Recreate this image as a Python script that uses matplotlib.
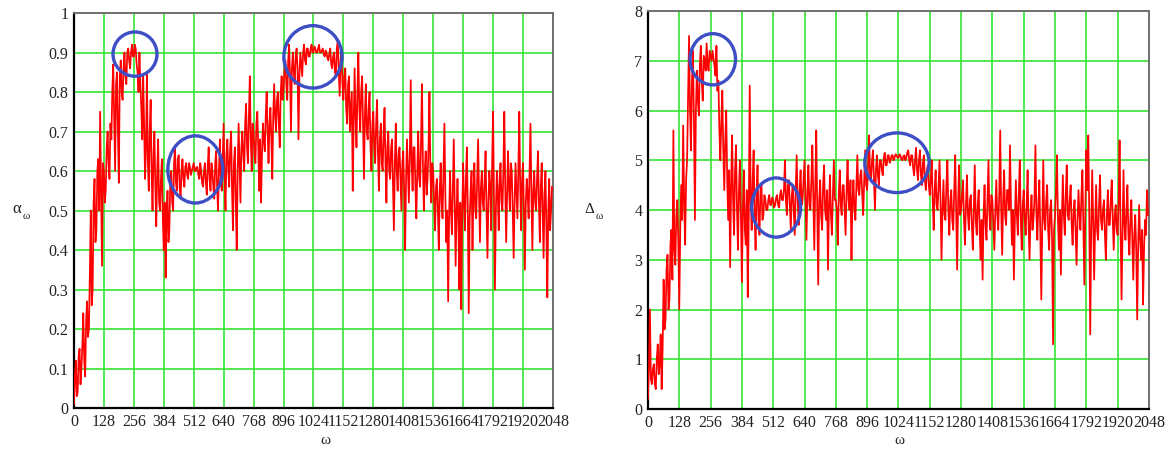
import numpy as np
import matplotlib
matplotlib.use("Agg")
import matplotlib.pyplot as plt
from matplotlib.patches import Ellipse

plt.rcParams["font.family"] = ["Liberation Serif", "DejaVu Serif"]

# alpha_omega sampled every 4th omega, one row per 128 of omega
alpha = [
    0.01, 0.08, 0.12, 0.03, 0.04, 0.13, 0.15, 0.06, 0.10, 0.16, 0.24, 0.12, 0.08, 0.22, 0.27, 0.18,
    0.20, 0.34, 0.50, 0.26, 0.30, 0.52, 0.58, 0.42, 0.45, 0.60, 0.63, 0.50, 0.75, 0.55, 0.36, 0.62,
    0.60, 0.52, 0.55, 0.66, 0.70, 0.62, 0.58, 0.72, 0.68, 0.80, 0.87, 0.74, 0.60, 0.82, 0.85, 0.70,
    0.57, 0.84, 0.88, 0.80, 0.78, 0.86, 0.90, 0.84, 0.82, 0.90, 0.91, 0.88, 0.86, 0.90, 0.92, 0.89,
    0.89, 0.92, 0.91, 0.87, 0.85, 0.80, 0.90, 0.82, 0.76, 0.68, 0.84, 0.72, 0.58, 0.66, 0.85, 0.62,
    0.55, 0.70, 0.78, 0.60, 0.50, 0.64, 0.70, 0.56, 0.46, 0.60, 0.68, 0.52, 0.50, 0.58, 0.63, 0.48,
    0.40, 0.52, 0.33, 0.48, 0.55, 0.42, 0.45, 0.58, 0.60, 0.52, 0.50, 0.62, 0.66, 0.57, 0.55, 0.63,
    0.64, 0.56, 0.53, 0.60, 0.63, 0.58, 0.56, 0.61, 0.62, 0.59, 0.58, 0.62, 0.61, 0.59, 0.60, 0.61,
    0.62, 0.60, 0.60, 0.61, 0.61, 0.59, 0.58, 0.62, 0.60, 0.57, 0.56, 0.60, 0.62, 0.57, 0.54, 0.61,
    0.66, 0.58, 0.55, 0.62, 0.60, 0.56, 0.53, 0.62, 0.65, 0.56, 0.50, 0.60, 0.68, 0.58, 0.55, 0.64,
    0.72, 0.58, 0.50, 0.64, 0.68, 0.60, 0.56, 0.66, 0.70, 0.55, 0.45, 0.62, 0.66, 0.52, 0.40, 0.60,
    0.72, 0.62, 0.52, 0.66, 0.70, 0.64, 0.60, 0.72, 0.77, 0.66, 0.62, 0.74, 0.84, 0.68, 0.60, 0.72,
    0.70, 0.64, 0.62, 0.72, 0.75, 0.66, 0.55, 0.68, 0.52, 0.64, 0.72, 0.68, 0.65, 0.74, 0.80, 0.70,
    0.62, 0.72, 0.76, 0.68, 0.58, 0.74, 0.82, 0.74, 0.70, 0.78, 0.80, 0.72, 0.66, 0.80, 0.84, 0.78,
    0.80, 0.86, 0.88, 0.82, 0.78, 0.88, 0.92, 0.84, 0.70, 0.86, 0.90, 0.85, 0.82, 0.89, 0.91, 0.86,
    0.68, 0.84, 0.90, 0.87, 0.84, 0.90, 0.92, 0.88, 0.87, 0.91, 0.91, 0.89, 0.89, 0.91, 0.92, 0.90,
    0.90, 0.915, 0.91, 0.90, 0.90, 0.91, 0.92, 0.90, 0.90, 0.905, 0.91, 0.895, 0.89, 0.905, 0.90, 0.885,
    0.88, 0.90, 0.91, 0.87, 0.86, 0.89, 0.90, 0.85, 0.84, 0.91, 0.93, 0.86, 0.79, 0.88, 0.90, 0.82,
    0.78, 0.84, 0.86, 0.76, 0.72, 0.82, 0.84, 0.70, 0.75, 0.80, 0.55, 0.72, 0.86, 0.74, 0.66, 0.80,
    0.90, 0.76, 0.70, 0.80, 0.84, 0.72, 0.58, 0.74, 0.82, 0.70, 0.68, 0.76, 0.80, 0.66, 0.60, 0.72,
    0.75, 0.66, 0.62, 0.72, 0.78, 0.64, 0.55, 0.68, 0.72, 0.62, 0.60, 0.70, 0.76, 0.62, 0.52, 0.66,
    0.70, 0.60, 0.58, 0.66, 0.68, 0.56, 0.45, 0.62, 0.72, 0.60, 0.55, 0.64, 0.66, 0.58, 0.50, 0.62,
    0.65, 0.55, 0.40, 0.58, 0.68, 0.60, 0.52, 0.64, 0.83, 0.62, 0.55, 0.66, 0.66, 0.56, 0.48, 0.60,
    0.70, 0.58, 0.56, 0.68, 0.82, 0.62, 0.50, 0.60, 0.65, 0.54, 0.58, 0.66, 0.80, 0.60, 0.52, 0.62,
    0.60, 0.52, 0.45, 0.56, 0.58, 0.50, 0.40, 0.55, 0.62, 0.52, 0.48, 0.60, 0.72, 0.54, 0.42, 0.50,
    0.27, 0.48, 0.60, 0.50, 0.44, 0.56, 0.68, 0.52, 0.36, 0.50, 0.58, 0.46, 0.30, 0.52, 0.25, 0.48,
    0.62, 0.52, 0.45, 0.58, 0.66, 0.50, 0.24, 0.48, 0.55, 0.60, 0.40, 0.54, 0.62, 0.50, 0.48, 0.58,
    0.68, 0.54, 0.42, 0.56, 0.60, 0.52, 0.50, 0.58, 0.65, 0.50, 0.38, 0.52, 0.60, 0.56, 0.45, 0.62,
    0.75, 0.52, 0.30, 0.50, 0.60, 0.54, 0.45, 0.58, 0.62, 0.52, 0.50, 0.60, 0.75, 0.56, 0.42, 0.54,
    0.65, 0.56, 0.50, 0.62, 0.60, 0.50, 0.38, 0.52, 0.62, 0.55, 0.48, 0.60, 0.75, 0.56, 0.45, 0.58,
    0.62, 0.50, 0.35, 0.52, 0.58, 0.54, 0.48, 0.60, 0.72, 0.54, 0.40, 0.55, 0.60, 0.52, 0.50, 0.58,
    0.65, 0.52, 0.42, 0.56, 0.62, 0.50, 0.38, 0.54, 0.60, 0.45, 0.28, 0.50, 0.58, 0.45, 0.50, 0.56,
]

# Delta_omega sampled every 4th omega, one row per 128 of omega
delta = [
    0.2, 0.8, 2.0, 0.6, 0.5, 0.8, 0.9, 0.5, 0.4, 1.0, 1.3, 0.7, 0.9, 1.5, 0.4, 1.2,
    2.6, 1.6, 1.8, 2.8, 3.1, 2.0, 2.2, 3.3, 3.6, 2.6, 5.6, 3.2, 2.9, 3.9, 4.2, 3.4,
    2.0, 3.6, 4.5, 3.8, 5.7, 4.2, 3.3, 4.6, 5.0, 6.2, 7.5, 6.0, 5.2, 6.6, 7.2, 5.8,
    3.8, 6.0, 6.8, 6.2, 5.9, 6.9, 7.3, 6.6, 6.2, 7.1, 7.0, 6.8, 7.35, 6.9, 6.8, 7.2,
    7.1, 7.0, 7.2, 7.05, 6.9, 6.7, 7.3, 6.4, 6.6, 5.6, 5.0, 5.8, 6.4, 5.2, 4.4, 5.4,
    6.0, 4.6, 3.8, 4.8, 2.85, 4.5, 5.5, 4.2, 3.5, 4.8, 5.3, 4.0, 3.2, 4.4, 5.0, 3.9,
    2.55, 4.0, 4.8, 3.6, 3.3, 4.4, 2.25, 3.8, 6.5, 4.2, 3.6, 4.6, 5.2, 3.9, 3.2, 4.3,
    4.9, 3.8, 3.5, 4.4, 4.5, 3.8, 3.9, 4.3, 4.2, 4.0, 4.0, 4.2, 4.3, 4.1, 4.1, 4.25,
    4.2, 4.05, 4.1, 4.25, 4.3, 4.1, 4.05, 4.3, 4.4, 4.2, 4.2, 4.4, 5.0, 4.2, 3.9, 4.5,
    4.6, 4.1, 3.6, 4.3, 4.5, 4.0, 3.5, 4.4, 5.1, 4.2, 3.7, 4.4, 4.8, 4.1, 4.2, 4.6,
    5.0, 4.2, 3.4, 4.4, 4.9, 4.1, 4.0, 4.6, 5.3, 4.2, 3.2, 4.5, 5.6, 4.0, 2.5, 4.2,
    4.6, 3.9, 3.6, 4.5, 4.9, 4.0, 3.8, 4.4, 2.8, 4.1, 4.7, 3.9, 3.5, 4.3, 5.0, 4.2,
    4.2, 4.0, 3.3, 4.3, 4.8, 4.1, 3.9, 4.5, 4.5, 4.0, 3.5, 4.4, 5.0, 4.2, 4.0, 4.6,
    3.0, 4.2, 4.6, 4.0, 3.8, 4.5, 5.1, 4.4, 4.3, 4.7, 4.8, 4.3, 3.9, 4.6, 5.2, 4.5,
    4.4, 4.9, 5.5, 4.7, 4.6, 5.0, 5.2, 4.6, 4.0, 4.8, 5.1, 4.7, 4.5, 5.0, 5.0, 4.8,
    4.7, 5.05, 5.15, 4.9, 4.9, 5.1, 5.1, 4.95, 5.0, 5.1, 5.1, 5.0, 5.05, 5.12, 5.1, 5.05,
    5.05, 5.12, 5.1, 5.02, 5.0, 5.08, 5.1, 5.0, 5.05, 5.15, 5.2, 5.0, 4.9, 5.1, 5.1, 4.85,
    4.7, 5.0, 5.25, 4.8, 4.6, 5.0, 5.2, 4.7, 4.5, 4.95, 5.1, 4.6, 4.4, 4.8, 4.9, 4.5,
    4.3, 4.6, 5.0, 4.2, 3.6, 4.4, 4.8, 4.1, 4.0, 4.5, 5.0, 4.2, 3.0, 4.0, 4.6, 3.9,
    3.8, 4.5, 5.0, 4.0, 3.5, 4.2, 4.4, 3.8, 3.6, 4.4, 5.1, 4.0, 2.8, 4.2, 4.9, 3.9,
    4.0, 4.3, 4.6, 3.8, 3.3, 4.1, 4.7, 3.9, 3.6, 4.2, 4.3, 3.7, 3.2, 4.0, 4.9, 3.8,
    3.5, 4.1, 4.4, 3.6, 3.0, 3.8, 2.6, 3.9, 4.5, 3.7, 3.4, 4.2, 5.0, 3.9, 3.6, 4.3,
    4.2, 3.7, 3.2, 4.0, 4.6, 3.9, 3.6, 4.3, 5.6, 4.0, 3.1, 4.2, 4.8, 3.9, 3.7, 4.4,
    4.4, 4.0, 5.3, 4.1, 3.3, 4.0, 2.6, 3.8, 4.6, 3.9, 3.5, 4.3, 5.0, 3.8, 3.2, 4.1,
    4.4, 3.8, 3.5, 4.1, 4.8, 3.7, 3.0, 3.9, 4.3, 3.6, 3.8, 4.2, 5.3, 3.9, 3.4, 4.1,
    4.6, 3.5, 2.2, 3.7, 5.0, 3.8, 3.6, 4.2, 4.5, 3.6, 3.2, 4.0, 4.2, 3.4, 1.3, 3.6,
    3.9, 4.4, 5.1, 3.8, 3.2, 4.0, 2.7, 3.8, 4.7, 3.9, 3.5, 4.3, 4.9, 3.9, 3.8, 4.2,
    4.5, 3.7, 3.3, 4.0, 4.2, 3.6, 2.9, 3.8, 4.4, 3.9, 3.6, 4.3, 4.8, 3.7, 2.5, 4.0,
    5.2, 4.4, 5.5, 3.9, 1.5, 3.6, 4.8, 3.8, 2.6, 3.7, 4.5, 3.6, 3.4, 4.1, 4.7, 3.8,
    3.6, 4.0, 4.2, 3.5, 3.0, 3.9, 4.4, 3.7, 3.7, 4.2, 4.6, 3.8, 3.2, 3.9, 4.1, 3.6,
    3.5, 4.2, 5.4, 3.6, 2.2, 3.5, 4.8, 3.7, 3.4, 4.0, 4.5, 3.5, 3.1, 3.8, 4.2, 3.4,
    2.6, 3.5, 3.9, 3.2, 1.8, 3.3, 4.1, 3.4, 3.0, 3.6, 2.1, 3.2, 3.8, 3.5, 4.4, 3.9,
]

xticks = np.arange(0, 2049, 128)
yticks_a = np.round(np.arange(0, 1.01, 0.1), 1)
yticks_d = np.arange(0, 9, 1)

# hand drawn circles: (center omega, center value, width, height)
circles_a = [(261, 0.896, 188, 0.112), (519, 0.604, 235, 0.17), (1022, 0.889, 249, 0.158)]
circles_d = [(265, 7.03, 186, 1.03), (524, 4.05, 200, 1.19), (1018, 4.95, 263, 1.2)]

fig = plt.figure(figsize=(11.7, 4.5), dpi=100)
ax1 = fig.add_axes([0.0632, 0.0933, 0.4094, 0.8778])
ax2 = fig.add_axes([0.5538, 0.0911, 0.4282, 0.8844])

panels = [
    (ax1, alpha, yticks_a, 1, circles_a),
    (ax2, delta, yticks_d, 8, circles_d),
]
for ax, y, yt, ymax, circ in panels:
    x = np.arange(len(y)) * 4
    ax.plot(x, y, color="#ff0000", lw=1.25, zorder=3)
    ax.set_xlim(0, 2048)
    ax.set_ylim(0, ymax)
    ax.set_xticks(xticks)
    ax.set_yticks(yt)
    ax.set_yticklabels(["%g" % v for v in yt])
    ax.grid(True, color="#33e633", lw=1.2)
    ax.set_axisbelow(True)
    ax.tick_params(length=0, labelsize=11.5, pad=4, labelcolor="#222222")
    for s in ["left", "bottom"]:
        ax.spines[s].set_color("black")
        ax.spines[s].set_linewidth(1.6)
    for s in ["top", "right"]:
        ax.spines[s].set_color("#707070")
        ax.spines[s].set_linewidth(1.4)
    for cx, cy, w, h in circ:
        ax.add_patch(Ellipse((cx, cy), w, h, fill=False, edgecolor="#3d4fc4",
                             lw=2.4, zorder=4))

# axis names: symbol with subscript omega
fig.text(0.0145, 0.535, "α", fontsize=12, ha="center", va="center", color="#222222")
fig.text(0.0225, 0.518, "ω", fontsize=8, ha="center", va="center", color="#222222")
fig.text(0.504, 0.535, "Δ", fontsize=11, ha="center", va="center", color="#222222")
fig.text(0.5125, 0.518, "ω", fontsize=8, ha="center", va="center", color="#222222")
fig.text(0.278, 0.022, "ω", fontsize=11, ha="center", va="center", color="#222222")
fig.text(0.769, 0.022, "ω", fontsize=11, ha="center", va="center", color="#222222")

fig.savefig("out.png", dpi=100)
